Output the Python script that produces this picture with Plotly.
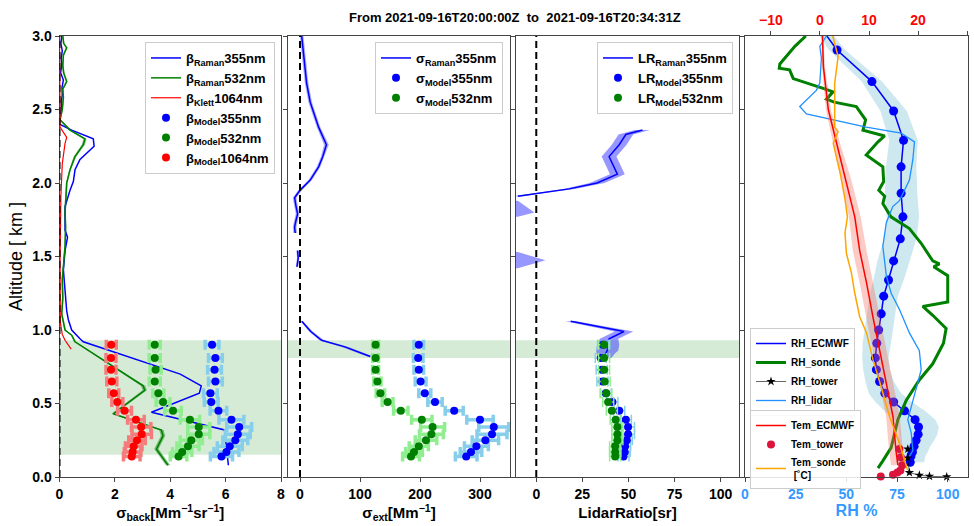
import plotly.graph_objects as go

# ---------------- DATA ----------------
alt_model = [0.90, 0.81, 0.73, 0.65, 0.57, 0.51, 0.45, 0.39, 0.34, 0.29, 0.25, 0.21, 0.17, 0.14]

beta355_model = [5.51, 5.63, 5.60, 5.63, 5.45, 5.48, 5.74, 6.21, 6.49, 6.44, 6.35, 6.15, 6.03, 5.85]
beta532_model = [3.44, 3.44, 3.47, 3.44, 3.57, 3.74, 4.10, 4.71, 5.03, 5.03, 4.76, 4.64, 4.43, 4.30]
beta1064_model = [1.87, 1.86, 1.86, 1.89, 1.96, 2.09, 2.35, 2.76, 2.95, 2.97, 2.80, 2.68, 2.64, 2.61]
beta355_err = [0.25, 0.25, 0.25, 0.25, 0.25, 0.25, 0.3, 0.45, 0.45, 0.45, 0.45, 0.45, 0.45, 0.4]
beta532_err = [0.2, 0.2, 0.2, 0.2, 0.2, 0.25, 0.3, 0.35, 0.4, 0.4, 0.4, 0.4, 0.35, 0.3]
beta1064_err = [0.18, 0.18, 0.18, 0.18, 0.18, 0.2, 0.25, 0.3, 0.35, 0.35, 0.3, 0.3, 0.3, 0.3]

ext355_model = [198, 197, 198, 201, 208, 225, 257, 300, 323, 320, 309, 294, 285, 277]
ext532_model = [126, 126, 126, 129, 134, 146, 168, 203, 221, 219, 210, 198, 190, 185]
ext355_err = [8, 8, 8, 9, 10, 12, 15, 22, 25, 25, 22, 20, 18, 18]
ext532_err = [5, 5, 5, 6, 7, 9, 12, 17, 20, 20, 18, 16, 14, 14]

lr355_model = [36.2, 35.0, 35.5, 35.9, 37.7, 41.3, 45.0, 48.6, 49.8, 49.8, 49.1, 48.2, 48.0, 47.3]
lr532_model = [36.8, 36.8, 36.8, 37.1, 38.0, 39.0, 41.0, 43.1, 44.0, 44.0, 44.0, 42.8, 42.8, 42.8]
lr355_err = [3, 3, 3, 3, 3, 3, 3, 3, 3.5, 3.5, 3, 3, 3, 3]
lr532_err = [3, 3, 3, 3, 3, 3, 3, 3, 3, 3, 3, 3, 3, 3]

# Raman / Klett backscatter profiles
alt_b355 = [3.0, 2.95, 2.9, 2.85, 2.8, 2.75, 2.7, 2.65, 2.6, 2.55, 2.5, 2.45, 2.40, 2.36, 2.30, 2.25,
            2.16, 2.09, 2.01, 1.95, 1.84, 1.68, 1.63, 1.54, 1.41, 1.32, 1.23, 1.13, 1.07, 1.00, 0.94,
            0.92, 0.70, 0.62, 0.57, 0.44, 0.32, 0.25, 0.17, 0.08]
b355 = [0.08, 0.05, 0.10, 0.06, 0.08, 0.04, 0.14, 0.09, 0.10, 0.06, 0.07, 0.02, 0.0, 0.44, 1.22, 1.25,
        0.74, 0.56, 0.50, 0.38, 0.20, 0.20, 0.29, 0.20, 0.14, 0.17, 0.20, 0.26, 0.32, 0.44, 0.74,
        0.86, 4.36, 5.12, 5.05, 3.32, 5.96, 6.0, 6.05, 6.1]

alt_b532 = [3.0, 2.95, 2.92, 2.87, 2.8, 2.75, 2.69, 2.64, 2.58, 2.5, 2.43, 2.36, 2.30, 2.26, 2.18,
            2.09, 2.0, 1.9, 1.80, 1.7, 1.57, 1.45, 1.34, 1.22, 1.11, 1.0, 0.965, 0.92, 0.67, 0.62,
            0.59, 0.43, 0.32, 0.28, 0.19, 0.14, 0.08]
b532 = [0.12, 0.15, 0.26, 0.14, 0.12, 0.15, 0.26, 0.12, 0.14, 0.10, 0.02, 0.38, 0.92, 0.86, 0.56,
        0.38, 0.26, 0.24, 0.20, 0.22, 0.20, 0.15, 0.10, 0.12, 0.08, 0.20, 0.44, 0.56, 2.6, 3.02,
        3.08, 1.94, 3.68, 3.74, 3.5, 3.68, 3.92]
b532_err = [0.03, 0.03, 0.03, 0.03, 0.03, 0.03, 0.03, 0.03, 0.03, 0.03, 0.03, 0.05, 0.06, 0.06, 0.05,
            0.03, 0.03, 0.03, 0.03, 0.03, 0.03, 0.03, 0.03, 0.03, 0.03, 0.03, 0.03, 0.04, 0.07, 0.08,
            0.08, 0.06, 0.08, 0.08, 0.08, 0.08, 0.08]

alt_b1064 = [3.0, 2.6, 2.38, 2.31, 2.27, 2.13, 1.91, 1.46, 1.05, 0.97, 0.93, 0.87]
b1064 = [0.0, 0.0, 0.02, 0.26, 0.20, 0.10, 0.05, 0.02, 0.03, 0.10, 0.20, 0.42]

# Raman extinction 355 (None = gap)
alt_ext = [3.0, 2.9, 2.8, 2.68, 2.55, 2.38, 2.26, 2.18, 2.11, 2.02, 1.95, 1.90, 1.85, 1.79, 1.74, 1.70, 1.66,
           None, 1.54, 1.49, 1.43, None, 1.06, 0.99, 0.93, 0.885, 0.82]
ext355 = [2.8, 5, 8, 11, 17, 31, 44, 38, 31, 17, 0, -9, -7, -4, -7, -9, -8,
          None, -4, -3, -5, None, 3, 18, 36, 75, 117]
ext355_band = [3, 3, 3, 3, 3, 3, 4, 3, 3, 3, 3, 3, 3, 3, 3, 3, 3,
               None, 2, 2, 2, None, 2, 3, 4, 6, 5]

# Raman lidar ratio 355 (None = gap)
alt_lr = [2.36, 2.33, 2.26, 2.18, 2.06, 2.00, 1.96, 1.93, 1.91, None, 1.88, 1.80, 1.77, None,
          1.53, 1.475, 1.42, None, 1.06, 0.99, 0.94, 0.90, 0.86, 0.84, 0.81]
lr355 = [57.6, 48.6, 45.0, 39.5, 44.0, 33.0, 17.8, 0.0, -10.0, None, -25, -20, -25, None,
         -25, -20, -25, None, 18.7, 47.6, 39.5, 39.0, 38.5, 37.7, 37.7]
lr355_band = [4, 4, 4, 4, 4, 4, 3, 3, 3, None, 15, 19, 15, None,
              15, 25, 15, None, 3, 5, 5, 6, 6, 5, 3]

# Panel 4: RH and temperature
alt_rh_ec = [3.13, 2.905, 2.69, 2.49, 2.29, 2.11, 1.93, 1.77, 1.62, 1.47, 1.34, 1.23, 1.11, 1.0, 0.91,
             0.81, 0.73, 0.65, 0.57, 0.51, 0.45, 0.39, 0.34, 0.29, 0.25, 0.21, 0.17, 0.14, 0.10]
rh_ec = [33.5, 45.4, 62.6, 73.3, 78.2, 77.0, 77.0, 77.9, 76.6, 73.3, 70.8, 68.4, 67.2, 65.9, 65.0,
         64.3, 64.8, 66.4, 69.0, 73.3, 78.7, 83.9, 85.6, 85.4, 84.4, 83.4, 82.6, 81.8, 81.5]
rh_ec_err = [3, 4, 5, 6.5, 7, 7.5, 8, 8, 8, 8, 7.5, 7, 7, 7, 7,
             6.5, 6.5, 7, 8, 9, 10, 10, 10, 9.5, 9, 8, 7.5, 7, 7]

alt_rh_sonde = [3.0, 2.93, 2.81, 2.78, 2.77, 2.71, 2.64, 2.62, 2.57, 2.55, 2.52, 2.43, 2.36, 2.32, 2.28,
                2.19, 2.11, 2.01, 1.95, 1.91, 1.86, 1.77, 1.69, 1.59, 1.47, 1.45, 1.43, 1.37, 1.19, 1.16,
                1.10, 1.01, 0.91, 0.77, 0.66, 0.52, 0.39, 0.30, 0.20, 0.11, 0.06]
rh_sonde = [30, 24.6, 17.2, 16.9, 22, 23.8, 39.3, 43.4, 40.2, 44, 54.9, 59.5, 58.2, 68.9, 65.6,
            59.8, 68, 68.4, 66, 68.9, 68, 72, 81.1, 86.9, 92.6, 95.9, 93.1, 100, 100, 87.7,
            92.6, 99.2, 97.9, 92.6, 86, 79.5, 75.4, 73.8, 72.1, 68, 65.6]

alt_rh_tower = [0.19, 0.13, 0.03, 0.012, 0.005, 0.001]
rh_tower = [80.3, 80.3, 81.1, 86.0, 91.0, 99.5]

alt_rh_lidar = [3.0, 2.93, 2.85, 2.68, 2.63, 2.52, 2.47, 2.38, 2.34, 2.28, 2.16, 2.02, 1.88, 1.84,
                1.73, 1.57, 1.37, 1.25, 1.14, 0.98, 0.86, 0.73, 0.64, 0.52, 0.39, 0.30, 0.18, 0.14]
rh_lidar = [40.2, 36.9, 37.7, 36.9, 35.2, 27.0, 30.3, 59.8, 77.0, 83.6, 82.8, 81.1, 76.2, 72.9,
            69.7, 68.0, 69.7, 72.1, 76.2, 81.1, 86.0, 86.9, 85.2, 82.8, 80.3, 82.0, 82.8, 81.1]

alt_tem_ec = [3.0, 2.79, 2.5, 2.27, 2.02, 1.77, 1.54, 1.32, 1.09, 0.86, 0.64, 0.41, 0.18, 0.08]
tem_ec = [0.5, 0.7, 1.7, 3.4, 5.4, 7.1, 8.1, 9.5, 10.8, 12.2, 13.5, 14.9, 15.5, 15.9]
tem_ec_err = [0.2, 0.3, 0.5, 0.7, 1.0, 1.2, 1.4, 1.4, 1.4, 1.4, 1.4, 1.4, 1.4, 1.4]

alt_tem_tower = [0.19, 0.135, 0.08, 0.045, 0.03, 0.015, 0.004]
tem_tower = [16.2, 16.5, 16.8, 16.4, 15.8, 14.9, 12.4]

alt_tem_sonde = [3.0, 2.86, 2.68, 2.38, 2.35, 2.27, 2.07, 1.89, 1.77, 1.66, 1.52, 1.39, 1.25, 1.09,
                 0.98, 0.80, 0.61, 0.41, 0.23, 0.09, 0.045]
tem_sonde = [2.6, 3.7, 3.0, 3.0, 3.7, 2.7, 4.1, 5.1, 5.6, 5.1, 5.4, 6.4, 7.1, 8.1,
             9.5, 10.8, 12.5, 14.2, 16.2, 17.6, 17.9]

shade_p1 = [0.152, 0.93]
shade_p23 = [0.81, 0.93]

title_text = "From 2021-09-16T20:00:00Z\u00a0\u00a0to\u00a0\u00a02021-09-16T20:34:31Z"

# ---------------- FIGURE ----------------
FONT = "Liberation Sans, Arial, DejaVu Sans, sans-serif"
W, H = 974, 526
Y_TOP, Y_BOT = 36, 477


def dx(a, b):
    return [a / W, b / W]


ydom = [1 - Y_BOT / H, 1 - Y_TOP / H]

fig = go.Figure()


def add_band(x, err, y, color, xa, ya):
    segs, cur = [], []
    for xi, ei, yi in zip(x, err, y):
        if xi is None:
            if cur:
                segs.append(cur)
            cur = []
        else:
            cur.append((xi, ei, yi))
    if cur:
        segs.append(cur)
    for s in segs:
        lo = [a - e for a, e, _ in s]
        hi = [a + e for a, e, _ in s]
        ys = [c for _, _, c in s]
        fig.add_trace(go.Scatter(x=lo + hi[::-1], y=ys + ys[::-1], fill="toself", fillcolor=color,
                                 mode="lines", line=dict(width=0), hoverinfo="skip", showlegend=False,
                                 xaxis=xa, yaxis=ya))


def model_trace(x, err, name, mcol, ecol, xa, ya, leg, thick=3.5):
    fig.add_trace(go.Scatter(x=x, y=alt_model, mode="markers", name=name,
                             marker=dict(color=mcol, size=8),
                             error_x=dict(type="data", array=err, color=ecol, thickness=thick, width=5),
                             xaxis=xa, yaxis=ya, legend=leg))


# ---- Panel 1: backscatter
add_band(b532, b532_err, alt_b532, "rgba(0,128,0,0.45)", "x", "y")
fig.add_trace(go.Scatter(x=b355, y=alt_b355, mode="lines", name="<b>β<sub>Raman</sub>355nm</b>",
                         line=dict(color="blue", width=1.5), xaxis="x", yaxis="y", legend="legend"))
fig.add_trace(go.Scatter(x=b532, y=alt_b532, mode="lines", name="<b>β<sub>Raman</sub>532nm</b>",
                         line=dict(color="green", width=1.5), xaxis="x", yaxis="y", legend="legend"))
fig.add_trace(go.Scatter(x=b1064, y=alt_b1064, mode="lines", name="<b>β<sub>Klett</sub>1064nm</b>",
                         line=dict(color="red", width=1.2), xaxis="x", yaxis="y", legend="legend"))
model_trace(beta355_model, beta355_err, "<b>β<sub>Model</sub>355nm</b>", "blue", "#87CEEB", "x", "y", "legend")
model_trace(beta532_model, beta532_err, "<b>β<sub>Model</sub>532nm</b>", "green", "#90EE90", "x", "y", "legend")
model_trace(beta1064_model, beta1064_err, "<b>β<sub>Model</sub>1064nm</b>", "red", "#F47C7C", "x", "y", "legend")

# ---- Panel 2: extinction
add_band(ext355, ext355_band, alt_ext, "rgba(65,65,255,0.45)", "x2", "y2")
fig.add_trace(go.Scatter(x=ext355, y=alt_ext, mode="lines", name="<b>σ<sub>Raman</sub>355nm</b>",
                         line=dict(color="blue", width=1.5), connectgaps=False,
                         xaxis="x2", yaxis="y2", legend="legend2"))
model_trace(ext355_model, ext355_err, "<b>σ<sub>Model</sub>355nm</b>", "blue", "#87CEEB", "x2", "y2", "legend2")
model_trace(ext532_model, ext532_err, "<b>σ<sub>Model</sub>532nm</b>", "green", "#90EE90", "x2", "y2", "legend2")

# ---- Panel 3: lidar ratio
add_band(lr355, lr355_band, alt_lr, "rgba(65,65,255,0.55)", "x3", "y3")
fig.add_trace(go.Scatter(x=lr355, y=alt_lr, mode="lines", name="<b>LR<sub>Raman</sub>355nm</b>",
                         line=dict(color="blue", width=1.5), connectgaps=False,
                         xaxis="x3", yaxis="y3", legend="legend3"))
model_trace(lr355_model, lr355_err, "<b>LR<sub>Model</sub>355nm</b>", "blue", "#87CEEB", "x3", "y3", "legend3", 1.5)
model_trace(lr532_model, lr532_err, "<b>LR<sub>Model</sub>532nm</b>", "green", "#90EE90", "x3", "y3", "legend3", 1.5)

# ---- Panel 4: RH & temperature
add_band(rh_ec, rh_ec_err, alt_rh_ec, "rgba(173,216,230,0.6)", "x4", "y4")
fig.add_trace(go.Scatter(x=rh_ec, y=alt_rh_ec, mode="lines", name="<b>RH_ECMWF</b>",
                         line=dict(color="blue", width=1.5), xaxis="x4", yaxis="y4", legend="legend4"))
fig.add_trace(go.Scatter(x=rh_ec, y=alt_rh_ec, mode="markers", showlegend=False,
                         marker=dict(color="blue", size=9), xaxis="x4", yaxis="y4"))
fig.add_trace(go.Scatter(x=rh_sonde, y=alt_rh_sonde, mode="lines", name="<b>RH_sonde</b>",
                         line=dict(color="green", width=3), xaxis="x4", yaxis="y4", legend="legend4"))
fig.add_trace(go.Scatter(x=rh_tower, y=alt_rh_tower, mode="lines+markers", name="<b>RH_tower</b>",
                         line=dict(color="black", width=0.6), marker=dict(color="black", size=7, symbol="star"),
                         cliponaxis=False, xaxis="x4", yaxis="y4", legend="legend4"))
fig.add_trace(go.Scatter(x=rh_lidar, y=alt_rh_lidar, mode="lines", name="<b>RH_lidar</b>",
                         line=dict(color="#1E90FF", width=1.3), xaxis="x4", yaxis="y4", legend="legend4"))
add_band(tem_ec, tem_ec_err, alt_tem_ec, "rgba(240,110,90,0.35)", "x5", "y4")
fig.add_trace(go.Scatter(x=tem_ec, y=alt_tem_ec, mode="lines", name="<b>Tem_ECMWF</b>",
                         line=dict(color="red", width=1.5), xaxis="x5", yaxis="y4", legend="legend5"))
fig.add_trace(go.Scatter(x=tem_tower, y=alt_tem_tower, mode="markers", name="<b>Tem_tower</b>",
                         marker=dict(color="crimson", size=8), cliponaxis=False,
                         xaxis="x5", yaxis="y4", legend="legend5"))
fig.add_trace(go.Scatter(x=tem_sonde, y=alt_tem_sonde, mode="lines", name="<b>Tem_sonde<br> [˚C]</b>",
                         line=dict(color="orange", width=1.5), xaxis="x5", yaxis="y4", legend="legend5"))

# ---- shapes
shapes = []
shapes.append(dict(type="rect", xref="x domain", yref="y", x0=0, x1=1, y0=shade_p1[0], y1=shade_p1[1],
                   fillcolor="rgba(0,128,0,0.16)", line=dict(width=0), layer="below"))
for xr, yr in (("x2 domain", "y2"), ("x3 domain", "y3")):
    shapes.append(dict(type="rect", xref=xr, yref=yr, x0=0, x1=1, y0=shade_p23[0], y1=shade_p23[1],
                       fillcolor="rgba(0,128,0,0.16)", line=dict(width=0), layer="below"))
for xr, yr in (("x", "y domain"), ("x2", "y2 domain"), ("x3", "y3 domain")):
    shapes.append(dict(type="line", xref=xr, yref=yr, x0=0, x1=0, y0=0, y1=1,
                       line=dict(color="black", width=2, dash="7px,4px"), layer="above"))

tickfont = dict(family=FONT, size=14, color="black", weight="bold")
ax_common = dict(showline=True, linecolor="#444", linewidth=1, mirror=True, ticks="outside", ticklen=4,
                 tickcolor="#444", showgrid=False, zeroline=False, tickfont=tickfont, automargin=False)
title_font = dict(family=FONT, size=15, color="black", weight="bold")


def yax(showlabels):
    d = dict(ax_common)
    d.update(domain=ydom, range=[0, 3], tickvals=[0, 0.5, 1, 1.5, 2, 2.5, 3], tickformat=".1f",
             showticklabels=showlabels)
    return d


layout = dict(
    width=W, height=H, margin=dict(l=0, r=0, t=0, b=0, autoexpand=False), paper_bgcolor="white",
    plot_bgcolor="white", font=dict(family=FONT), showlegend=True, shapes=shapes,
    xaxis=dict(ax_common, domain=dx(59.5, 281), range=[0, 8], tickvals=[0, 2, 4, 6, 8], anchor="y",
               title=dict(text="σ<sub>back</sub>[Mm<sup>−1</sup>sr<sup>−1</sup>]", font=title_font, standoff=4)),
    yaxis=dict(yax(True), anchor="x",
               title=dict(text="Altitude [ km ]", font=dict(family=FONT, size=18, color="black"), standoff=4)),
    xaxis2=dict(ax_common, domain=dx(288, 510), range=[-20, 350], tickvals=[0, 100, 200, 300], anchor="y2",
                title=dict(text="σ<sub>ext</sub>[Mm<sup>−1</sup>]", font=title_font, standoff=4)),
    yaxis2=dict(yax(False), anchor="x2"),
    xaxis3=dict(ax_common, domain=dx(516, 739), range=[-11, 110], tickvals=[0, 25, 50, 75, 100], anchor="y3",
                title=dict(text="LidarRatio[sr]", font=title_font, standoff=6)),
    yaxis3=dict(yax(False), anchor="x3"),
    xaxis4=dict(ax_common, domain=dx(745, 968), range=[0, 110], tickvals=[0, 25, 50, 75, 100], anchor="y4",
                tickfont=dict(tickfont, color="#3399ff"),
                title=dict(text="RH %", font=dict(family=FONT, size=16, color="#3399ff", weight="bold"), standoff=4)),
    yaxis4=dict(yax(False), anchor="x4"),
    xaxis5=dict(overlaying="x4", side="top", anchor="y4", range=[-15.3, 30.2], tickvals=[-10, 0, 10, 20, 30],
                showline=False, showgrid=False, zeroline=False, ticks="outside", ticklen=4, tickcolor="#444",
                automargin=False, tickfont=dict(tickfont, color="red")),
    annotations=[dict(text="<b>" + title_text + "</b>", x=515 / W, y=1 - 18 / H, xref="paper", yref="paper",
                      xanchor="center", yanchor="middle",
                      showarrow=False, font=dict(family=FONT, size=13, color="black"))],
)

leg_common = dict(bgcolor="rgba(255,255,255,0.85)", bordercolor="#cccccc", borderwidth=1,
                  font=dict(family=FONT, size=13, color="black"), itemwidth=30)
layout["legend"] = dict(leg_common, x=275 / W, y=1 - 42 / H, xanchor="right", yanchor="top")
layout["legend2"] = dict(leg_common, x=503 / W, y=1 - 42 / H, xanchor="right", yanchor="top")
layout["legend3"] = dict(leg_common, x=733 / W, y=1 - 42 / H, xanchor="right", yanchor="top")
small_leg = dict(leg_common, font=dict(family=FONT, size=10, color="black"))
layout["legend4"] = dict(small_leg, x=750 / W, y=1 - 328 / H, xanchor="left", yanchor="top")
layout["legend5"] = dict(small_leg, x=750 / W, y=1 - 410 / H, xanchor="left", yanchor="top")

fig.update_layout(**layout)
fig.write_html("out.html", config={"displayModeBar": False},
               post_script="document.body.style.margin='0px';")
